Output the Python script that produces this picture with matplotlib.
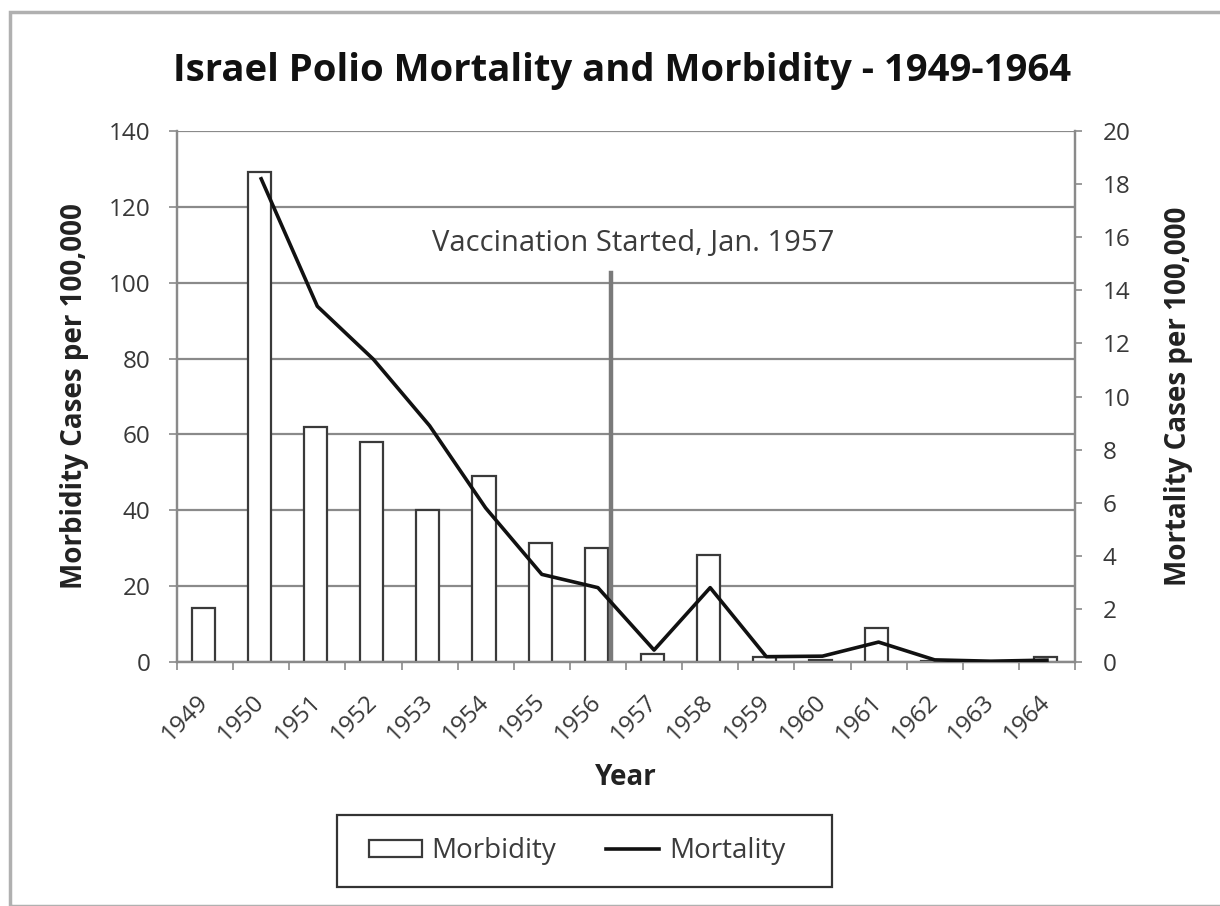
import matplotlib
matplotlib.use("Agg")
import matplotlib.pyplot as plt
import numpy as np
from matplotlib.patches import Rectangle

years = ["1949", "1950", "1951", "1952", "1953", "1954", "1955", "1956",
         "1957", "1958", "1959", "1960", "1961", "1962", "1963", "1964"]
morbidity = [14.2, 129.3, 62, 58, 40, 49, 31.3, 30, 2.1, 28.3, 1.3, 0.6, 9.0, 0.3, 0.0, 1.2]
mortality = [np.nan, 18.2, 13.4, 11.4, 8.9, 5.8, 3.3, 2.8, 0.45, 2.8, 0.2, 0.22, 0.75, 0.08, 0.03, 0.07]
vacc_pos = 7.24
vacc_top = 102.5
vacc_label = "Vaccination Started, Jan. 1957"

plt.rcParams['font.family'] = ['Open Sans', 'DejaVu Sans']

fig = plt.figure(figsize=(12.2, 9.06), dpi=100)
ax = fig.add_axes([177/1220, 1-662/906, (1075-177)/1220, (662-131)/906])
ax2 = ax.twinx()

x = np.arange(len(years))
ax.bar(x - 0.03, morbidity, width=0.41, facecolor='white', edgecolor='#3a3a3a', linewidth=1.6,
       label='Morbidity', zorder=3)
ax.set_ylim(0, 140)
ax.set_xlim(-0.5, len(years) - 0.5)
ax.set_yticks(np.arange(0, 141, 20))
ax.yaxis.grid(True, color='#8a8a8a', linewidth=1.6, zorder=0)
ax.set_axisbelow(True)

ax.set_xticks(np.arange(-0.5, len(years), 1.0))
ax.set_xticklabels([])
ax.set_xticks(x, minor=True)
ax.set_xticklabels(years, minor=True, rotation=45, ha='right', va='center',
                   rotation_mode='anchor', fontsize=17.5, color='#383838')
ax.tick_params(axis='x', which='minor', length=0, pad=26)
ax.tick_params(axis='x', which='major', length=6, width=1.2, color='#8a8a8a')
ax.tick_params(axis='y', length=6, width=1.2, color='#8a8a8a', labelsize=17.5,
               labelcolor='#383838', pad=13)

ax.plot([vacc_pos, vacc_pos], [0, vacc_top], color='#7a7a7a', linewidth=3.2, zorder=4)
ax.text(vacc_pos + 0.38, 110.3, vacc_label, ha='center', va='center', fontsize=21,
        color='#3c3c3c')

ax2.plot(x, mortality, color='#111111', linewidth=2.6, label='Mortality', zorder=5)
ax2.set_ylim(0, 20)
ax2.set_yticks(np.arange(0, 21, 2))
ax2.tick_params(axis='y', length=5, width=1.2, color='#8a8a8a', labelsize=17.5,
                labelcolor='#383838', pad=15)

for a in (ax, ax2):
    a.spines['top'].set_visible(False)
    for s in ('left', 'right', 'bottom'):
        a.spines[s].set_color('#8a8a8a')
        a.spines[s].set_linewidth(1.6)

ax.set_ylabel("Morbidity Cases per 100,000", fontsize=20, fontweight='bold', color='#222222',
              labelpad=14)
ax2.set_ylabel("Mortality Cases per 100,000", fontsize=20, fontweight='bold', color='#222222',
               labelpad=24)
ax.set_xlabel("Year", fontsize=20, fontweight='bold', color='#222222', labelpad=12)

fig.text(0.51, 1 - 71/906, "Israel Polio Mortality and Morbidity - 1949-1964",
         ha='center', va='center', fontsize=27.5, fontweight='bold', color='#111111')

h1, l1 = ax.get_legend_handles_labels()
h2, l2 = ax2.get_legend_handles_labels()
leg = fig.legend(h1 + h2, l1 + l2, loc='center', bbox_to_anchor=(577/1220, 1-851/906),
                 ncol=2, fontsize=20, frameon=False,
                 handlelength=1.9, handleheight=0.55, handletextpad=0.35, columnspacing=1.8,
                 borderpad=0.3, labelcolor='#3c3c3c')

fig.patches.append(Rectangle((337/1220, 1-887/906), (832-337)/1220, 72/906,
                             transform=fig.transFigure, fill=False, edgecolor='#333333',
                             linewidth=1.6))

fig.patches.append(Rectangle((10/1220, 0), 1.5, 1 - 12/906, transform=fig.transFigure,
                             fill=False, edgecolor='#b0b0b0', linewidth=2.5))

fig.savefig("out.png", dpi=100)
